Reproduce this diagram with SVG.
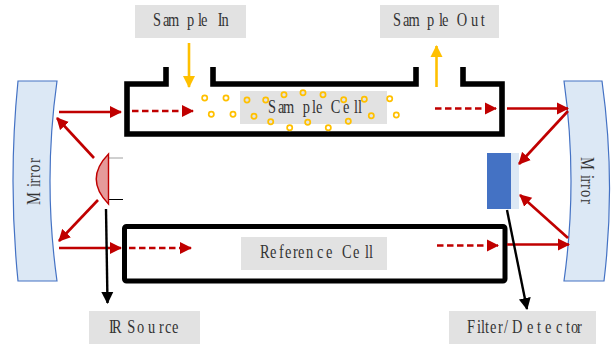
<svg xmlns="http://www.w3.org/2000/svg" width="614" height="346" viewBox="0 0 614 346">
<style>
.lb{fill:#e2e2e2}
.t{font-family:"Liberation Serif",serif;font-size:18px;fill:#333}
.cell{fill:none;stroke:#000;stroke-width:5.6}
.red{fill:none;stroke:#c00000;stroke-width:2.6}
.dash{stroke-dasharray:6.500 3.500}
.blk{fill:none;stroke:#000;stroke-width:2.4}
.yel{fill:none;stroke:#ffc000;stroke-width:2.6}
.mir{fill:#dce8f5;stroke:#4472c4;stroke-width:1.2}
.dot{fill:none;stroke:#ffc000;stroke-width:1.7}
</style>
<defs>
<marker id="mr" markerUnits="userSpaceOnUse" markerWidth="12" markerHeight="13" refX="11" refY="6.500" orient="auto"><path d="M0,0.500L12,6.500L0,12.500Z" fill="#c00000"/></marker>
<marker id="mk" markerUnits="userSpaceOnUse" markerWidth="12" markerHeight="13" refX="11" refY="6.500" orient="auto"><path d="M0,0.500L12,6.500L0,12.500Z" fill="#000"/></marker>
<marker id="my" markerUnits="userSpaceOnUse" markerWidth="12" markerHeight="13" refX="11" refY="6.500" orient="auto"><path d="M0,0.500L12,6.500L0,12.500Z" fill="#ffc000"/></marker>
</defs>
<g id="sample-cell">
<rect class="lb" x="240" y="91" width="147" height="33"/>
<path class="cell" d="M166,67V84H127V134H502V84H463V67M416,67V84H213V67"/>
<g id="particles">
<circle class="dot" cx="204.7" cy="98" r="2.600"/><circle class="dot" cx="226" cy="98" r="2.600"/><circle class="dot" cx="247" cy="100" r="2.600"/><circle class="dot" cx="265.700" cy="100" r="2.600"/><circle class="dot" cx="284" cy="94.700" r="2.600"/><circle class="dot" cx="303" cy="92.700" r="2.600"/><circle class="dot" cx="323" cy="94.700" r="2.600"/><circle class="dot" cx="343.700" cy="99.700" r="2.600"/><circle class="dot" cx="364.300" cy="99.300" r="2.600"/><circle class="dot" cx="389.700" cy="98.700" r="2.600"/><circle class="dot" cx="211.300" cy="114.300" r="2.600"/><circle class="dot" cx="233" cy="114.300" r="2.600"/><circle class="dot" cx="254" cy="116.300" r="2.600"/><circle class="dot" cx="270.700" cy="121.700" r="2.600"/><circle class="dot" cx="289.700" cy="127.700" r="2.600"/><circle class="dot" cx="307.700" cy="122.300" r="2.600"/><circle class="dot" cx="328.300" cy="127.700" r="2.600"/><circle class="dot" cx="348.300" cy="121.300" r="2.600"/><circle class="dot" cx="371.300" cy="115.700" r="2.600"/><circle class="dot" cx="396.300" cy="115" r="2.600"/>
</g>
<text class="t" transform="scale(.8,1)" y="113" x="335 347.500 353.750 378.400 390 395 405 413.400 428.750 442.500 447.500">Sample Cell</text>
</g>
<g id="reference-cell">
<rect x="124.500" y="226.500" width="380.500" height="54.500" rx="2" fill="none" stroke="#000" stroke-width="5"/>
<rect class="lb" x="241" y="237" width="146" height="33"/>
<text class="t" transform="scale(.8,1)" y="258.500" x="325 337.500 348.750 356.250 366.250 372.500 382.500 396.250 407.500 418 427.500 441.250 456.250 461.250">Reference Cell</text>
</g>
<g id="sample-in"><rect class="lb" x="135" y="5" width="111" height="33"/><text class="t" transform="scale(.8,1)" y="26" x="191.250 203.750 210 233.750 247.500 251.250 262 272.100 276.900">Sample In</text></g>
<g id="sample-out"><rect class="lb" x="380" y="5" width="119" height="33"/><text class="t" transform="scale(.8,1)" y="26" x="491.250 503.750 510.600 533.750 548.750 552.500 562 570.900 588.750 600.900">Sample Out</text></g>
<g id="ir-source"><rect class="lb" x="89" y="311" width="111" height="33"/><text class="t" transform="scale(.8,1)" y="333" x="136.250 140 152 159.100 171.250 185 198.750 206.250 215">IR Source</text></g>
<g id="filter-detector"><rect class="lb" x="449" y="311" width="147" height="33"/><text class="t" transform="scale(.8,1)" y="333" x="583.750 596.250 601.250 606.250 612.500 622.500 630 640 658.750 671.250 681.250 695 707.500 713.750 721.250">Filter/Detector</text></g>
<g id="mirror-left">
<path class="mir" d="M18,81H57Q43,181 57,281H18Q8,181 18,81Z"/>
<text class="t" transform="translate(40,205) rotate(-90) scale(.8,1)" y="0" x="0 22.500 26.900 33.750 41.250 52.500">Mirror</text>
</g>
<g id="mirror-right">
<path class="mir" d="M564,81H602Q616,181 604,281H564Q578,181 564,81Z"/>
<text class="t" transform="translate(581,157) rotate(90) scale(.8,1)" y="0" x="0 22.500 26.900 33.750 41.250 52.500">Mirror</text>
</g>
<g id="ir-lamp">
<path d="M108,158H123" stroke="#a0a0a0" stroke-width="1"/>
<path d="M108,199.500H123" stroke="#000" stroke-width="1"/>
<path d="M108.500,154V204Q84,179 108.500,154Z" fill="#e59a9a" stroke="#c00000" stroke-width="1.400"/>
</g>
<g id="detector">
<rect x="487" y="153" width="24" height="56" fill="#4472c4"/>
<rect x="511" y="153" width="8" height="56" fill="#dce8f5"/>
</g>
<g id="connectors">
<path class="red" marker-end="url(#mr)" d="M59,112H121"/>
<path class="red" marker-end="url(#mr)" d="M94,158L57,118"/>
<path class="red" marker-end="url(#mr)" d="M98,200L59,241"/>
<path class="red" marker-end="url(#mr)" d="M59,248H121"/>
<path class="red dash" marker-end="url(#mr)" d="M132,111H193"/>
<path class="red dash" marker-end="url(#mr)" d="M129,248H191"/>
<path class="red dash" marker-end="url(#mr)" d="M435,108.500H496"/>
<path class="red dash" marker-end="url(#mr)" d="M437,245.500H498"/>
<path class="red" marker-end="url(#mr)" d="M507,108.500H568"/>
<path class="red" marker-end="url(#mr)" d="M568,111L519,164"/>
<path class="red" marker-end="url(#mr)" d="M568,238L520,195"/>
<path class="red" marker-end="url(#mr)" d="M507,244.500H569"/>
<path class="blk" marker-end="url(#mk)" d="M106,209L107.500,303"/>
<path class="blk" marker-end="url(#mk)" d="M507,210L527,309"/>
<path class="yel" marker-end="url(#my)" d="M189,43V87"/>
<path class="yel" marker-end="url(#my)" d="M436.500,87V46"/>
</g>
</svg>
